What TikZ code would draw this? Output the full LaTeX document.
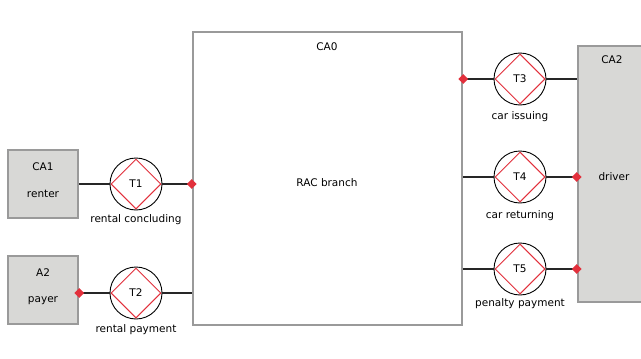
\documentclass[tikz,border=0pt]{standalone}
\usepackage{fontspec}
\setmainfont{DejaVu Sans}
\usetikzlibrary{shapes.geometric}
\definecolor{boxgray}{HTML}{D8D8D6}
\definecolor{edgegray}{HTML}{9A9A9A}
\definecolor{mred}{HTML}{E2303C}
\tikzset{
  actor/.style={rectangle, draw=edgegray, line width=2.6pt, fill=boxgray, inner sep=0pt},
  trans/.style={circle, draw=black, line width=0.9pt, minimum size=52pt, inner sep=0pt, font=\fontsize{10.5}{12}\selectfont},
  tdia/.style={diamond, draw=mred, line width=1pt, minimum size=50pt, inner sep=0pt},
  marker/.style={diamond, fill=mred, minimum size=10pt, inner sep=0pt},
  conn/.style={line width=1.1pt, draw=black!85},
  lbl/.style={font=\fontsize{10.5}{12}\selectfont, inner sep=0pt},
}
\begin{document}
\begin{tikzpicture}[x=1pt,y=-1pt]
\useasboundingbox (0,0) rectangle (641,359);
\clip (0,0) rectangle (641,359);
\fill[white] (0,0) rectangle (641,359);
% actor boxes
\node[actor, minimum width=269pt, minimum height=293pt, fill=white] (CA0) at (327.5,178.5) {};
\node[actor, minimum width=70pt, minimum height=68pt] (CA1) at (43,184) {};
\node[actor, minimum width=70pt, minimum height=68pt] (A2) at (43,290) {};
\node[actor, minimum width=90pt, minimum height=256pt] (CA2) at (623,174) {};
% box texts
\node[lbl] (tCA0) at (327,47) {CA0};
\node[lbl] (tRAC) at (327,183) {RAC branch};
\node[lbl] (tCA1) at (43,167) {CA1};
\node[lbl] (tren) at (43,194) {renter};
\node[lbl] (tA2) at (43,273) {A2};
\node[lbl] (tpay) at (43,301) {payer};
\node[lbl] (tCA2) at (612,60) {CA2};
\node[lbl] (tdrv) at (614,177) {driver};
% transactions
\node[trans] (T1) at (136,184) {};
\node[trans] (T2) at (136,293) {};
\node[trans] (T3) at (520,79) {};
\node[trans] (T4) at (520,177) {};
\node[trans] (T5) at (520,269) {};
\foreach \t in {T1,T2,T3,T4,T5}{
  \node[tdia] (\t d) at (\t) {};
  \node[lbl] (\t n) at (\t) {\t};
}
% transaction labels
\node[lbl] (l1) at (136,220) {rental concluding};
\node[lbl] (l2) at (136,330) {rental payment};
\node[lbl] (l3) at (520,117) {car issuing};
\node[lbl] (l4) at (520,216) {car returning};
\node[lbl] (l5) at (520,304) {penalty payment};
% connectors
\draw[conn] (CA1.east |- T1) -- (T1.west);
\draw[conn] (T1.east) -- (CA0.west |- T1);
\draw[conn] (A2.east |- T2) -- (T2.west);
\draw[conn] (T2.east) -- (CA0.west |- T2);
\draw[conn] (CA0.east |- T3) -- (T3.west);
\draw[conn] (T3.east) -- (CA2.west |- T3);
\draw[conn] (CA0.east |- T4) -- (T4.west);
\draw[conn] (T4.east) -- (CA2.west |- T4);
\draw[conn] (CA0.east |- T5) -- (T5.west);
\draw[conn] (T5.east) -- (CA2.west |- T5);
% red markers
\node[marker] (m1) at (CA0.west |- T1) {};
\node[marker] (m2) at (A2.east |- T2) {};
\node[marker] (m3) at (CA0.east |- T3) {};
\node[marker] (m4) at (CA2.west |- T4) {};
\node[marker] (m5) at (CA2.west |- T5) {};
\end{tikzpicture}
\end{document}
